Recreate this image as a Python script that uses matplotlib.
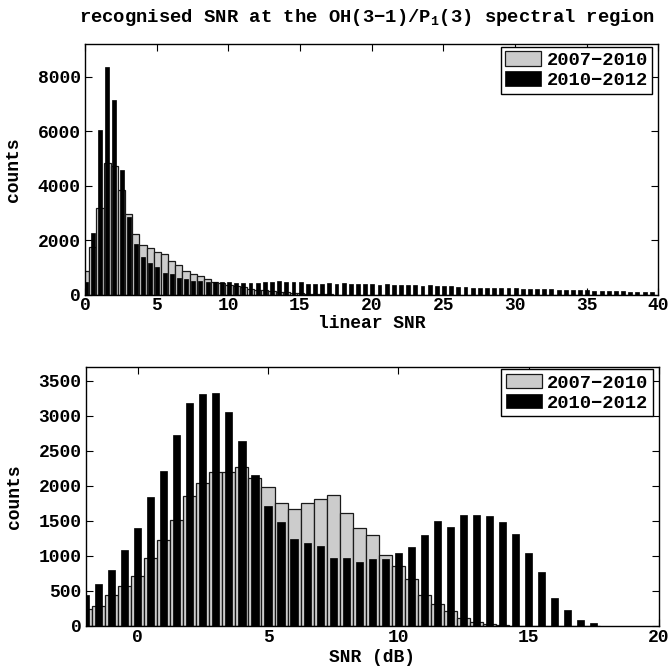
import numpy as np
import matplotlib
matplotlib.use('Agg')
import matplotlib.pyplot as plt

# linear SNR histogram, bins 0.5 wide
lin_centers = 0.05 + 0.5 * np.arange(80)
lin_0710 = [850, 1760, 3190, 4820, 4720, 3840, 2950, 2230, 1820, 1710,
            1560, 1490, 1220, 1070, 865, 760, 695, 585, 475, 405,
            355, 310, 260, 205, 170, 150, 125, 100, 80, 60,
            45, 30, 20, 10, 5] + [0] * 45
lin_1012 = [460, 2260, 6060, 8350, 7160, 4590, 2850, 1840, 1360, 1150,
            1000, 780, 735, 590, 585, 510, 510, 445, 455, 475,
            445, 435, 435, 435, 435, 450, 455, 480, 455, 455,
            455, 400, 395, 370, 420, 395, 415, 390, 390, 395,
            380, 360, 375, 355, 345, 350, 340, 330, 340, 330,
            320, 300, 270, 275, 255, 255, 245, 250, 240, 230,
            225, 220, 210, 205, 195, 190, 180, 175, 165, 160,
            150, 145, 140, 130, 125, 120, 110, 105, 100, 95]

# SNR in dB, bins 0.5 wide
db_centers = -2.0 + 0.5 * np.arange(40)
db_0710 = [238, 290, 438, 566, 719, 966, 1223, 1514, 1856, 2037,
           2194, 2194, 2266, 2109, 1980, 1752, 1671, 1752, 1809, 1866,
           1609, 1400, 1295, 1009, 852, 666, 438, 309, 214, 119,
           57, 24, 10, 0, 0, 0, 0, 0, 0, 0]
db_1012 = [443, 600, 800, 1085, 1395, 1842, 2213, 2727, 3189, 3313,
           3327, 3056, 2642, 2156, 1718, 1485, 1242, 1185, 1142, 971,
           971, 914, 957, 957, 1042, 1128, 1300, 1500, 1414, 1585,
           1585, 1571, 1485, 1314, 1042, 771, 400, 228, 86, 43]

labels = ['2007\u22122010', '2010\u22122012']

plt.rcParams['font.family'] = ['Liberation Mono', 'DejaVu Sans Mono']
plt.rcParams['font.weight'] = 'bold'
plt.rcParams['axes.labelweight'] = 'bold'
plt.rcParams['font.size'] = 13
plt.rcParams['mathtext.fontset'] = 'custom'
plt.rcParams['mathtext.rm'] = 'Liberation Mono:bold'
plt.rcParams['mathtext.it'] = 'Liberation Mono:bold'
plt.rcParams['mathtext.bf'] = 'Liberation Mono:bold'

fig = plt.figure(figsize=(6.72, 6.66), dpi=100)
ax1 = fig.add_axes([0.1265, 0.5578, 0.853, 0.376])
ax2 = fig.add_axes([0.1274, 0.0601, 0.853, 0.3893])


def draw(ax, x, gray, black, xlim, ylim, xticks, yticks, xlabel, xlab_y):
    ax.bar(x, gray, width=0.5, color=(0.8, 0.8, 0.8), edgecolor=(0.1, 0.1, 0.1),
           linewidth=0.9, label=labels[0])
    ax.bar(x, black, width=0.275, color='black', edgecolor='black',
           linewidth=0.5, label=labels[1])
    ax.set_xlim(xlim)
    ax.set_ylim(ylim)
    ax.set_xticks(xticks)
    ax.set_yticks(yticks)
    ax.tick_params(direction='in', top=True, right=True, length=5, width=0.8, pad=3)
    ax.tick_params(axis='x', pad=2)
    for s in ax.spines.values():
        s.set_linewidth(1.0)
    ax.set_xlabel(xlabel)
    ax.xaxis.set_label_coords(0.5, xlab_y)
    ax.set_ylabel('counts')
    ax.yaxis.set_label_coords(-0.11, 0.5)
    leg = ax.legend(loc='upper right', bbox_to_anchor=(0.99, 0.99), borderaxespad=0,
                    fancybox=False, framealpha=1, edgecolor='black',
                    handlelength=1.9, handleheight=0.8, handletextpad=0.3,
                    borderpad=0.25, labelspacing=0.12, fontsize=13.5)
    leg.get_frame().set_linewidth(1.0)


draw(ax1, lin_centers, lin_0710, lin_1012, (0, 40), (0, 9200),
     np.arange(0, 41, 5), np.arange(0, 8001, 2000), 'linear SNR', -0.08)
draw(ax2, db_centers, db_0710, db_1012, (-2, 20), (0, 3700),
     np.arange(0, 21, 5), np.arange(0, 3501, 500), 'SNR (dB)', -0.09)

fig.text(0.546, 1 - 18 / 666, 'recognised SNR at the OH(3\u22121)/P$_\\mathregular{1}$(3) spectral region',
         ha='center', va='center', fontsize=13.6)

fig.savefig('out.png', dpi=100)
